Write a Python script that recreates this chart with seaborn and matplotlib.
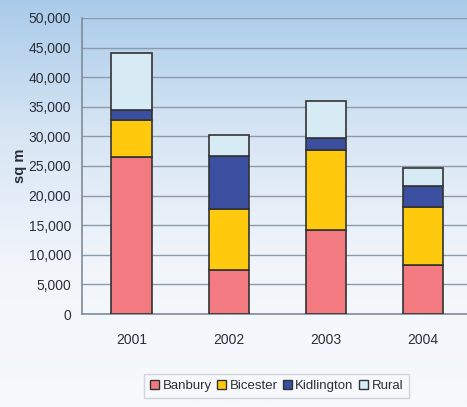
import numpy as np
import pandas as pd
import matplotlib
matplotlib.use("Agg")
import matplotlib.pyplot as plt
from matplotlib.patches import Patch
from matplotlib.colors import LinearSegmentedColormap
from matplotlib.ticker import FuncFormatter
import seaborn as sns

# andmed (sq m)
years = ["2001", "2002", "2003", "2004"]
banbury = [26600, 7400, 14200, 8200]
bicester = [6200, 10400, 13500, 9900]
kidlington = [1700, 8900, 2100, 3500]
rural = [9600, 3600, 6200, 3100]

series = ["Banbury", "Bicester", "Kidlington", "Rural"]
colors = ["#F27A80", "#FFC90E", "#3A4FA0", "#D6EBF3"]

df = pd.DataFrame({"year": years, "Banbury": banbury, "Bicester": bicester,
                   "Kidlington": kidlington, "Rural": rural})

sns.set_style("white")
plt.rcParams["font.family"] = ["Liberation Sans Narrow", "Liberation Sans", "DejaVu Sans"]
txt_col = "#2b2f3a"

fig = plt.figure(figsize=(4.67, 4.07), dpi=100)

# taust: sinine -> valge gradient
bg = fig.add_axes([0, 0, 1, 1], zorder=-10)
grad = np.linspace(0, 1, 256).reshape(-1, 1)
cmap_bg = LinearSegmentedColormap.from_list("bg", ["#A9CBEA", "#D8E6F4", "#F2F6FB", "#F7F9FC"])
bg.imshow(grad, aspect="auto", cmap=cmap_bg, extent=[0, 1, 0, 1])
bg.axis("off")

ax = fig.add_axes([0.1756, 0.2285, 0.8244, 0.7273])
ax.patch.set_alpha(0)

bottom = np.zeros(len(years))
for name, col in zip(series, colors):
    sns.barplot(data=df, x="year", y=name, color=col, bottom=bottom,
                width=0.415, edgecolor="#333333", linewidth=1.2,
                saturation=1, ax=ax, zorder=3)
    bottom = bottom + df[name].values

ax.set_ylim(0, 50000)
ax.set_xlim(-0.51, 3.45)
ax.set_yticks(range(0, 50001, 5000))
ax.yaxis.set_major_formatter(FuncFormatter(lambda v, p: f"{int(v):,}"))
ax.grid(axis="y", color="#8C9BAA", linewidth=1.0, zorder=0)
ax.set_axisbelow(True)
for s in ["top", "right"]:
    ax.spines[s].set_visible(False)
for s in ["left", "bottom"]:
    ax.spines[s].set_color("#7F8C99")
    ax.spines[s].set_linewidth(1.2)
ax.tick_params(axis="y", length=4, width=1, color="#7F8C99", labelsize=10,
               labelcolor=txt_col, pad=4)
ax.tick_params(axis="x", length=0, labelsize=10, labelcolor=txt_col, pad=14)
ax.set_xlabel("")
ax.set_ylabel("sq m", fontsize=10.5, fontweight="bold", color=txt_col, labelpad=1)

handles = [Patch(facecolor=c, edgecolor="#333333", linewidth=1.0, label=n)
           for n, c in zip(series, colors)]
leg = fig.legend(handles=handles, loc="lower center", bbox_to_anchor=(0.592, 0.005),
                 ncol=4, fontsize=9.5, frameon=True, fancybox=False,
                 handlelength=0.7, handleheight=0.7, handletextpad=0.25,
                 columnspacing=0.4, borderpad=0.45, labelcolor=txt_col)
leg.get_frame().set_edgecolor("#C8CCD2")
leg.get_frame().set_facecolor("#F7F9FC")

fig.savefig("out.png", dpi=100)
